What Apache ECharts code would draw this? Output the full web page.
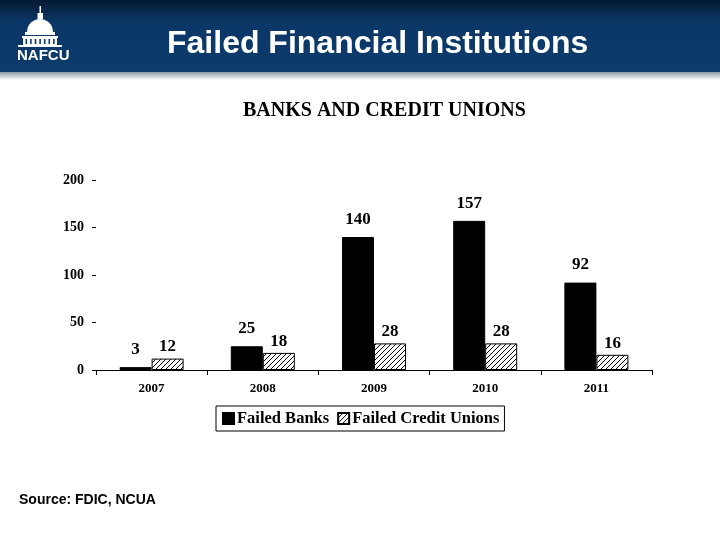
<!DOCTYPE html>
<html><head><meta charset="utf-8">
<script src="https://cdn.jsdelivr.net/npm/echarts@6/dist/echarts.min.js"></script>
<style>html,body{margin:0;padding:0;background:#fff}#c{width:720px;height:540px}</style>
</head><body><div id="c"></div>
<script>
const categories = ['2007','2008','2009','2010','2011'];
const failedBanks = [3, 25, 140, 157, 92];
const failedCreditUnions = [12, 18, 28, 28, 16];
const yTicks = [0, 50, 100, 150, 200];

function hatch() {
  const c = document.createElement('canvas');
  c.width = 5; c.height = 5;
  const g = c.getContext('2d');
  g.fillStyle = '#fff'; g.fillRect(0,0,5,5);
  g.strokeStyle = '#000'; g.lineWidth = 1;
  g.beginPath();
  g.moveTo(0,5); g.lineTo(5,0);
  g.moveTo(-2.5,2.5); g.lineTo(2.5,-2.5);
  g.moveTo(2.5,7.5); g.lineTo(7.5,2.5);
  g.stroke();
  return c;
}
const pat = {image: hatch(), repeat: 'repeat'};
const serif = '"Liberation Serif","Times New Roman",serif';
const sans = '"Liberation Sans",Arial,sans-serif';

const logo = [
  {type:'rect', shape:{x:39.5,y:6,width:1.5,height:10}, style:{fill:'#fff'}},
  {type:'rect', shape:{x:37.5,y:13,width:5.5,height:6}, style:{fill:'#fff'}},
  {type:'sector', shape:{cx:40,cy:32,r:13,r0:0,startAngle:Math.PI,endAngle:2*Math.PI}, style:{fill:'#fff'}},
  {type:'rect', shape:{x:25,y:32,width:30,height:3}, style:{fill:'#fff'}},
  {type:'rect', shape:{x:22,y:36,width:36,height:2}, style:{fill:'#fff'}},
  {type:'rect', shape:{x:23,y:38,width:34,height:7}, style:{fill:'#fff'}},
  {type:'rect', shape:{x:18,y:45,width:44,height:2}, style:{fill:'#fff'}},
  {type:'text', left:17, top:48, style:{text:'NAFCU', fill:'#fff', font:'bold 15px '+sans}}
];
for (let i = 0; i < 7; i++) {
  logo.push({type:'rect', shape:{x:25.5+i*4.6,y:39,width:1.6,height:5}, style:{fill:'#0b3a6b'}});
}

const chart = echarts.init(document.getElementById('c'));
chart.setOption({
  animation: false,
  backgroundColor: '#fff',
  graphic: [
    {type:'rect', shape:{x:0,y:0,width:720,height:72}, style:{fill:{type:'linear',x:0,y:0,x2:0,y2:1,colorStops:[{offset:0,color:'#041a33'},{offset:0.3,color:'#0b3766'},{offset:1,color:'#0c3b6c'}]}}},
    {type:'rect', shape:{x:0,y:72,width:720,height:8}, style:{fill:{type:'linear',x:0,y:0,x2:0,y2:1,colorStops:[{offset:0,color:'#8a98a8'},{offset:1,color:'#ffffff'}]}}},
    {type:'text', left:167, top:28, style:{text:'Failed Financial Institutions', fill:'#fff', font:'bold 32px '+sans}},
    ...logo,
    {type:'text', left:243, top:101, style:{text:'BANKS AND CREDIT UNIONS', fill:'#000', font:'bold 20px '+serif}},
    {type:'text', left:19, top:493, style:{text:'Source: FDIC, NCUA', fill:'#000', font:'bold 14px '+sans}}
  ],
  grid: {left:96, right:68, top:180, bottom:170, containLabel:false},
  legend: {
    data:['Failed Banks','Failed Credit Unions'],
    left:216, top:406,
    borderColor:'#000', borderWidth:1, padding:[4,5,4,6],
    itemWidth:11, itemHeight:11, itemGap:8, icon:'rect',
    textStyle:{fontFamily:serif, fontWeight:'bold', fontSize:16.5, color:'#000', padding:[0,0,0,-2]}
  },
  xAxis: {
    type:'category', data:categories,
    axisLine:{lineStyle:{color:'#000', width:1}},
    axisTick:{show:true, length:5, inside:false, lineStyle:{color:'#000'}},
    axisLabel:{fontFamily:serif, fontWeight:'bold', fontSize:13, color:'#000', margin:12}
  },
  yAxis: {
    type:'value', min:0, max:200, interval:50,
    splitLine:{show:false},
    axisLine:{show:false},
    axisTick:{show:true, length:4, lineStyle:{color:'#000'}},
    axisLabel:{fontFamily:serif, fontWeight:'bold', fontSize:14, color:'#000', margin:12,
      formatter: v => yTicks.includes(v) ? String(v) : ''}
  },
  series: [
    {name:'Failed Banks', type:'bar', data:failedBanks, barWidth:32, barGap:'0%',
     itemStyle:{color:'#000', borderColor:'#000', borderWidth:1},
     label:{show:true, position:'top', distance:9, fontFamily:serif, fontWeight:'bold', fontSize:17, color:'#000'}},
    {name:'Failed Credit Unions', type:'bar', data:failedCreditUnions, barWidth:32,
     itemStyle:{color:pat, borderColor:'#000', borderWidth:1},
     label:{show:true, position:'top', distance:3, fontFamily:serif, fontWeight:'bold', fontSize:17, color:'#000'}}
  ]
});
</script></body></html>
